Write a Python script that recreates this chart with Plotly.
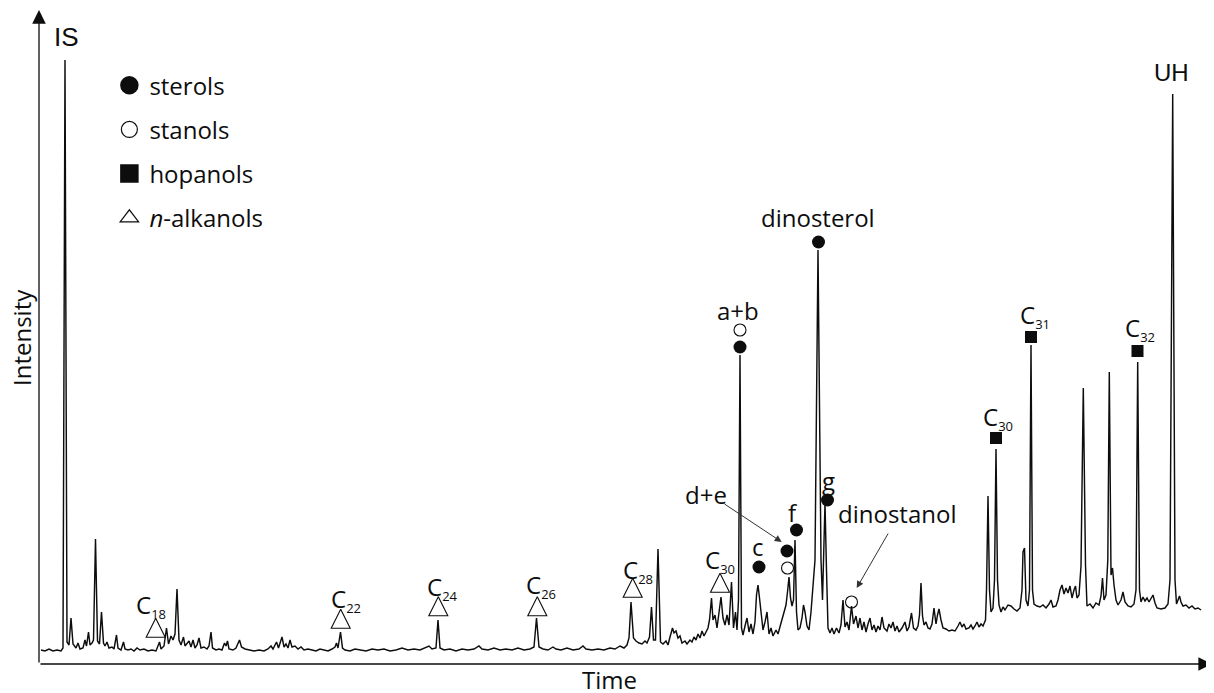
import plotly.graph_objects as go

# ---------------- chromatogram trace (time, intensity) ----------------
time = [41, 45, 49, 53, 57, 61, 63, 65, 67, 69, 71, 73, 76, 78, 80, 83, 85, 86.5, 88.5, 90, 92, 93.5, 95.5, 97.5, 99.5,
        101.5, 103.5, 105, 107, 109, 112, 114, 116.5, 118, 121, 123.5, 125, 128, 131, 134, 137, 140, 144, 148, 152, 156,
        159.5, 161, 164, 166.5, 168.5, 171, 173, 175, 177, 179, 181, 183.5, 185, 187, 189, 191, 193, 195, 197, 199, 201,
        204, 207, 209, 211, 212.5, 216, 219, 222, 224.5, 226, 227.5, 229, 233, 236, 239.5, 241.5, 245, 249, 254, 259, 264,
        268, 271, 273, 276.5, 278.5, 282, 284, 286, 288, 290, 292, 295, 298, 301, 304, 308, 312, 316, 320, 324, 328, 332,
        335, 336.5, 338, 340.5, 342.5, 345, 350, 355, 360, 366, 372, 378, 384, 390, 396, 402, 408, 414, 420, 425, 429, 432,
        436, 438, 440, 444, 450, 456, 462, 468, 474, 479, 482, 488, 494, 500, 506, 512, 518, 524, 530, 534, 536.5, 539, 543,
        548, 553, 556, 561, 567, 573, 579, 583, 586, 592, 598, 604, 610, 615, 620, 624, 627, 629, 631, 633.5, 636, 639, 642,
        645, 647, 649.5, 651.5, 653.5, 655.5, 658, 660.5, 663, 666, 668, 670, 672.5, 674, 676, 678, 680, 682, 685, 687, 690,
        692, 694, 696, 698, 700, 702, 704, 706, 708, 709.5, 711.5, 713, 715, 717, 719, 721, 723, 725, 727, 729, 731.5, 733.5,
        735.5, 737, 738.5, 740, 741.5, 743, 745, 747, 749, 751, 753, 755, 756.5, 758, 759.5, 761, 763, 765, 767, 769, 771,
        773, 776, 778, 780, 782, 784, 786, 787.5, 789, 790.5, 792, 793.5, 795, 796.5, 798, 800, 802, 803.5, 805, 807, 809,
        811, 813, 815, 818, 821, 822.5, 823.5, 825, 826.5, 828, 830, 832, 834, 836.5, 839, 841, 843, 845, 847, 849, 851.5,
        853.5, 856, 858, 860, 862, 864, 866, 868, 870, 872, 874, 876, 878, 880, 882, 884, 887, 889, 891, 893, 895, 897, 899,
        902, 905, 907, 909, 911.5, 913.5, 916, 918, 919.5, 921, 922.5, 924, 926, 928, 930, 932, 934, 936, 937.5, 939, 941,
        943, 946, 949, 952, 955, 958, 960, 962, 964, 966, 969, 971, 973, 975, 977, 979, 981, 983, 985.5, 986.5, 988, 989.5,
        991, 993, 994.5, 996, 997.5, 999, 1001, 1003, 1005, 1008, 1011, 1014, 1017, 1020, 1022, 1023, 1024.5, 1026, 1028,
        1029.5, 1031, 1032.5, 1034, 1037, 1040, 1043, 1046, 1049, 1051, 1053, 1056, 1058, 1060, 1062, 1064, 1066, 1068,
        1070, 1072, 1074, 1075.5, 1077, 1079, 1081, 1083.3, 1085.5, 1087, 1090, 1093, 1096, 1099, 1101, 1102.5, 1104, 1106,
        1107.8, 1109.3, 1111, 1112.5, 1114, 1116, 1118, 1121, 1123, 1125, 1128, 1131, 1134, 1136, 1137.7, 1139.5, 1141,
        1143, 1145, 1147, 1149, 1151, 1153, 1155, 1157, 1161, 1165, 1168, 1170, 1172.7, 1175, 1176.5, 1178, 1179.5, 1181,
        1183, 1186, 1189, 1192, 1195, 1198, 1201]
intensity = [14, 13, 15, 13, 14, 13, 16, 604, 22, 19, 46, 20, 16, 21, 15, 16, 24, 18, 32, 19, 21, 24, 125, 23, 20,
             52, 21, 18, 22, 16, 17, 15, 29, 16, 14, 22, 15, 14, 15, 13, 16, 14, 15, 13, 14, 13,
             22, 15, 18, 36, 20, 28, 24, 30, 75, 24, 19, 27, 18, 21, 23, 17, 24, 16, 19, 26, 16,
             17, 15, 18, 32, 16, 14, 15, 14, 21, 18, 23, 15, 14, 16, 24, 17, 15, 14, 13, 14, 13,
             15, 18, 15, 22, 16, 27, 17, 20, 16, 24, 17, 18, 15, 17, 14, 15, 14, 13, 15, 14, 13, 15,
             17, 21, 16, 32, 16, 14, 13, 15, 14, 13, 15, 14, 15, 13, 14, 16, 14, 15, 14, 16, 18, 15,
             16, 44, 16, 14, 15, 13, 15, 14, 15, 18, 15, 14, 16, 14, 15, 14, 16, 14, 15, 17, 46, 17, 15,
             14, 17, 15, 14, 16, 14, 15, 18, 15, 14, 15, 14, 16, 15, 18, 16, 19, 26, 62, 26, 23, 21, 20,
             23, 21, 27, 57, 24, 24, 115, 22, 20, 23, 19, 27, 36, 31, 33, 26, 28, 21, 23, 20, 24,
             22, 27, 24, 30, 26, 33, 28, 32, 36, 44, 66, 44, 49, 36, 52, 67, 46, 39, 49, 39, 82, 36,
             52, 34, 64, 309, 36, 29, 38, 46, 32, 40, 30, 42, 69, 79, 66, 49, 34, 42, 52, 30, 36,
             28, 34, 30, 38, 46, 52, 59, 72, 87, 66, 58, 64, 124, 52, 34, 36, 46, 59, 52, 38, 34,
             52, 76, 104, 414, 104, 64, 94, 161, 94, 36, 31, 36, 30, 36, 31, 39, 64, 37, 42, 34, 58,
             40, 48, 36, 46, 34, 42, 32, 40, 46, 34, 39, 32, 38, 34, 47, 36, 33, 40, 36, 42, 33, 38, 32,
             36, 42, 33, 37, 51, 36, 34, 38, 49, 81, 48, 39, 42, 36, 35, 40, 56, 40, 49, 55, 44,
             36, 35, 33, 34, 33, 38, 42, 37, 40, 35, 36, 39, 35, 38, 42, 37, 40, 38, 44, 74, 168, 74,
             52, 56, 84, 215, 84, 59, 52, 57, 54, 59, 58, 55, 53, 56, 74, 112, 116, 64, 58,
             74, 319, 74, 60, 58, 57, 59, 56, 60, 64, 57, 58, 64, 74, 79, 70, 76, 71,
             78, 66, 74, 78, 66, 69, 98, 276, 99, 58, 60, 56, 61, 59, 68, 86, 64, 69,
             104, 292, 89, 96, 79, 64, 59, 64, 72, 62, 58, 57, 60, 74, 302, 74, 62,
             67, 63, 66, 62, 65, 69, 61, 56, 55, 56, 60, 84, 570, 84, 60, 64, 68, 62,
             58, 59, 56, 58, 55, 56, 54]

# ---------------- compound markers (peak time, marker height) ----------------
sterol_time = [740, 759, 787, 796.5, 818.5, 827.5]
sterol_height = [317, 97, 113, 134, 422, 164]
stanol_time = [740, 787.5, 851.5]
stanol_height = [334, 96, 62]
hopanol_time = [996, 1031, 1137.5]
hopanol_height = [226, 327, 313]
alkanol_time = [155.7, 340.7, 438.3, 537.3, 632.7, 720]
alkanol_height = [45.7, 54.7, 67.3, 67.3, 85.7, 90.7]

# ---------------- text labels ----------------
alkanol_numbers = ["18", "22", "24", "26", "28", "30"]
alkanol_label_x = [151.4, 345.5, 442, 541, 637.5, 719.7]
alkanol_label_y = [59, 65, 77, 79, 94, 104]
hopanol_numbers = ["30", "31", "32"]
hopanol_label_x = [998, 1035, 1140]
hopanol_label_y = [247, 349, 336]
peak_labels = ["a+b", "dinosterol", "c", "f", "g", "d+e", "dinostanol"]
peak_label_x = [738, 818, 758, 792.5, 828, 706, 897]
peak_label_y = [354, 447, 118, 152, 184, 170, 151]
legend_names = ["sterols", "stanols", "hopanols", "<i>n</i>-alkanols"]

FONT = "Open Sans"
INK = "#0d0d0d"

fig = go.Figure()
fig.add_trace(go.Scatter(x=time, y=intensity, mode="lines", line=dict(color=INK, width=1.45),
                         showlegend=False, hoverinfo="skip"))

fig.add_trace(go.Scatter(x=sterol_time, y=sterol_height, mode="markers", showlegend=False,
                         marker=dict(symbol="circle", size=13, color=INK)))
fig.add_trace(go.Scatter(x=stanol_time, y=stanol_height, mode="markers", showlegend=False,
                         marker=dict(symbol="circle-open", size=12, color=INK, line=dict(width=1.1))))
fig.add_trace(go.Scatter(x=hopanol_time, y=hopanol_height, mode="markers", showlegend=False,
                         marker=dict(symbol="square", size=12, color=INK)))
fig.add_trace(go.Scatter(x=alkanol_time, y=alkanol_height, mode="markers", showlegend=False,
                         marker=dict(symbol="arrow-up-open", size=19, color=INK, line=dict(width=1.1))))

# legend entries
legend_symbols = ["circle", "circle-open", "square", "triangle-up-open"]
legend_line_w = [2.5, 1.2, 2.5, 1.2]
for i, (nm, sym, lw) in enumerate(zip(legend_names, legend_symbols, legend_line_w)):
    fig.add_trace(go.Scatter(x=[None], y=[None], mode="markers", name=nm, legendgroup=f"g{i}",
                             marker=dict(symbol=sym, size=16, color=INK, line=dict(width=lw, color=INK))))

def label(x, y, text, size=24, family=FONT, **kw):
    d = dict(x=x, y=y, text=text, showarrow=False, xanchor="center", yanchor="middle",
             font=dict(family=family, size=size, color=INK))
    d.update(kw)
    return d

def carbon(n):
    return f'C<sub><span style="font-size:13px">{n}</span></sub>'

ann = []
for n, x, y in zip(alkanol_numbers + hopanol_numbers, alkanol_label_x + hopanol_label_x,
                   alkanol_label_y + hopanol_label_y):
    ann.append(label(x, y, carbon(n)))
for t, x, y in zip(peak_labels, peak_label_x, peak_label_y):
    ann.append(label(x, y, t))
ann.append(label(66, 627, "IS", size=26, family="Liberation Sans"))
ann.append(label(1171, 592, "UH", size=24, family="Liberation Sans"))
# pointer arrows
ann.append(dict(x=781.7, y=122, ax=723, ay=161, axref="x", ayref="y", text="", showarrow=True,
                arrowhead=2, arrowsize=1.4, arrowwidth=1, arrowcolor="#333"))
ann.append(dict(x=856.7, y=76, ax=889, ay=132, axref="x", ayref="y", text="", showarrow=True,
                arrowhead=2, arrowsize=1.4, arrowwidth=1, arrowcolor="#333"))
# axes with arrows
ann.append(dict(x=39, y=654, ax=39, ay=0, axref="x", ayref="y", text="", showarrow=True,
                arrowhead=2, arrowsize=2.1, arrowwidth=1.3, arrowcolor=INK))
ann.append(dict(x=1212, y=0, ax=39, ay=0, axref="x", ayref="y", text="", showarrow=True,
                arrowhead=2, arrowsize=2.1, arrowwidth=1.3, arrowcolor=INK))
# axis titles
ann.append(label((21 - 39) / 1173, (664 - 338) / 656, "Intensity", xref="paper", yref="paper", textangle=-90))
ann.append(label((609.7 - 39) / 1173, (664 - 679) / 656, "Time", xref="paper", yref="paper"))

# the page places the figure 8 px from the top-left corner; size it to fit the 1214x693 window
fig.update_layout(
    width=1206, height=685,
    margin=dict(l=31, r=2, t=0, b=29),
    paper_bgcolor="white", plot_bgcolor="white",
    xaxis=dict(range=[39, 1212], visible=False),
    yaxis=dict(range=[0, 656], visible=False),
    showlegend=True,
    legend=dict(x=0.06, y=0.916, xanchor="left", yanchor="top", font=dict(family=FONT, size=24, color=INK),
                tracegroupgap=10, bgcolor="rgba(0,0,0,0)"),
    annotations=ann,
)

fig.write_html("out.html")
